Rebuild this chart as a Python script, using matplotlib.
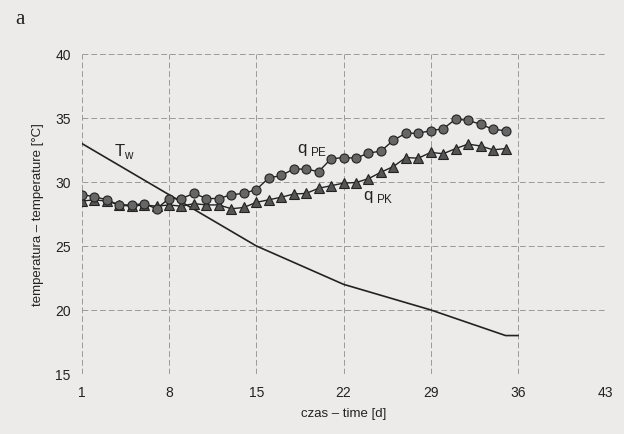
import matplotlib.pyplot as plt
import numpy as np

#========================================================================
# dane
#========================================================================
dni = list(range(1, 36))

q_pe = [29.0, 28.85, 28.6, 28.2, 28.2, 28.3, 27.9, 28.7, 28.7, 29.1,
        28.7, 28.7, 29.0, 29.1, 29.4, 30.3, 30.5, 31.0, 31.0, 30.8,
        31.8, 31.9, 31.85, 32.25, 32.4, 33.25, 33.8, 33.8, 34.0, 34.15,
        34.9, 34.8, 34.5, 34.1, 34.0]

q_pk = [28.5, 28.6, 28.5, 28.2, 28.1, 28.2, 28.1, 28.2, 28.1, 28.3,
        28.2, 28.2, 27.9, 28.0, 28.4, 28.6, 28.8, 29.05, 29.1, 29.5,
        29.7, 29.9, 29.95, 30.25, 30.75, 31.2, 31.9, 31.85, 32.3, 32.2,
        32.6, 32.95, 32.8, 32.5, 32.6]

tw_dni = [1, 8, 15, 22, 29, 35, 36]
tw = [33.0, 29.0, 25.0, 22.0, 20.0, 18.0, 18.0]

xticks = [1, 8, 15, 22, 29, 36, 43]
yticks = [15, 20, 25, 30, 35, 40]

#========================================================================
# wykres
#========================================================================
plt.rcParams['font.family'] = ['Liberation Sans', 'DejaVu Sans']
plt.rcParams['mathtext.fontset'] = 'custom'
plt.rcParams['mathtext.rm'] = 'Liberation Sans'

bg = '#ecebe9'
fig = plt.figure(figsize=(6.24, 4.35), dpi=100, facecolor=bg)
ax = fig.add_axes([0.131, 0.138, 0.839, 0.736], facecolor=bg)

ax.plot(tw_dni, tw, color='#222222', linewidth=1.2)
ax.plot(dni, q_pk, color='#222222', linewidth=1, marker='^', markersize=6.5,
        markerfacecolor='#555555', markeredgecolor='#222222', markeredgewidth=0.8)
ax.plot(dni, q_pe, color='#222222', linewidth=1, marker='o', markersize=6.5,
        markerfacecolor='#666666', markeredgecolor='#222222', markeredgewidth=0.8)

ax.text(3.6, 32.1, r'$\mathrm{T}_{\mathrm{w}}$', fontsize=12, color='#222222')
ax.text(18.3, 32.3, r'$\mathrm{q}_{\ \mathrm{PE}}$', fontsize=12, color='#222222')
ax.text(23.6, 28.7, r'$\mathrm{q}_{\ \mathrm{PK}}$', fontsize=12, color='#222222')

ax.set_xlim(1, 43)
ax.set_ylim(15, 40)
ax.set_xticks(xticks)
ax.set_yticks(yticks)
ax.tick_params(length=0, labelsize=10, pad=8, colors='#222222')
ax.grid(True, linestyle=(0, (6, 3)), color='#9a9a9a', linewidth=0.7)
for s in ax.spines.values():
    s.set_visible(False)

ax.set_xlabel('czas – time [d]', fontsize=9.5, color='#222222', labelpad=6)
ax.set_ylabel('temperatura – temperature [°C]', fontsize=9.5, color='#222222', labelpad=8)

fig.text(0.024, 0.955, 'a', family='Liberation Serif', fontsize=15, color='#222222', va='center')

plt.savefig('out.png', dpi=100, facecolor=bg)
